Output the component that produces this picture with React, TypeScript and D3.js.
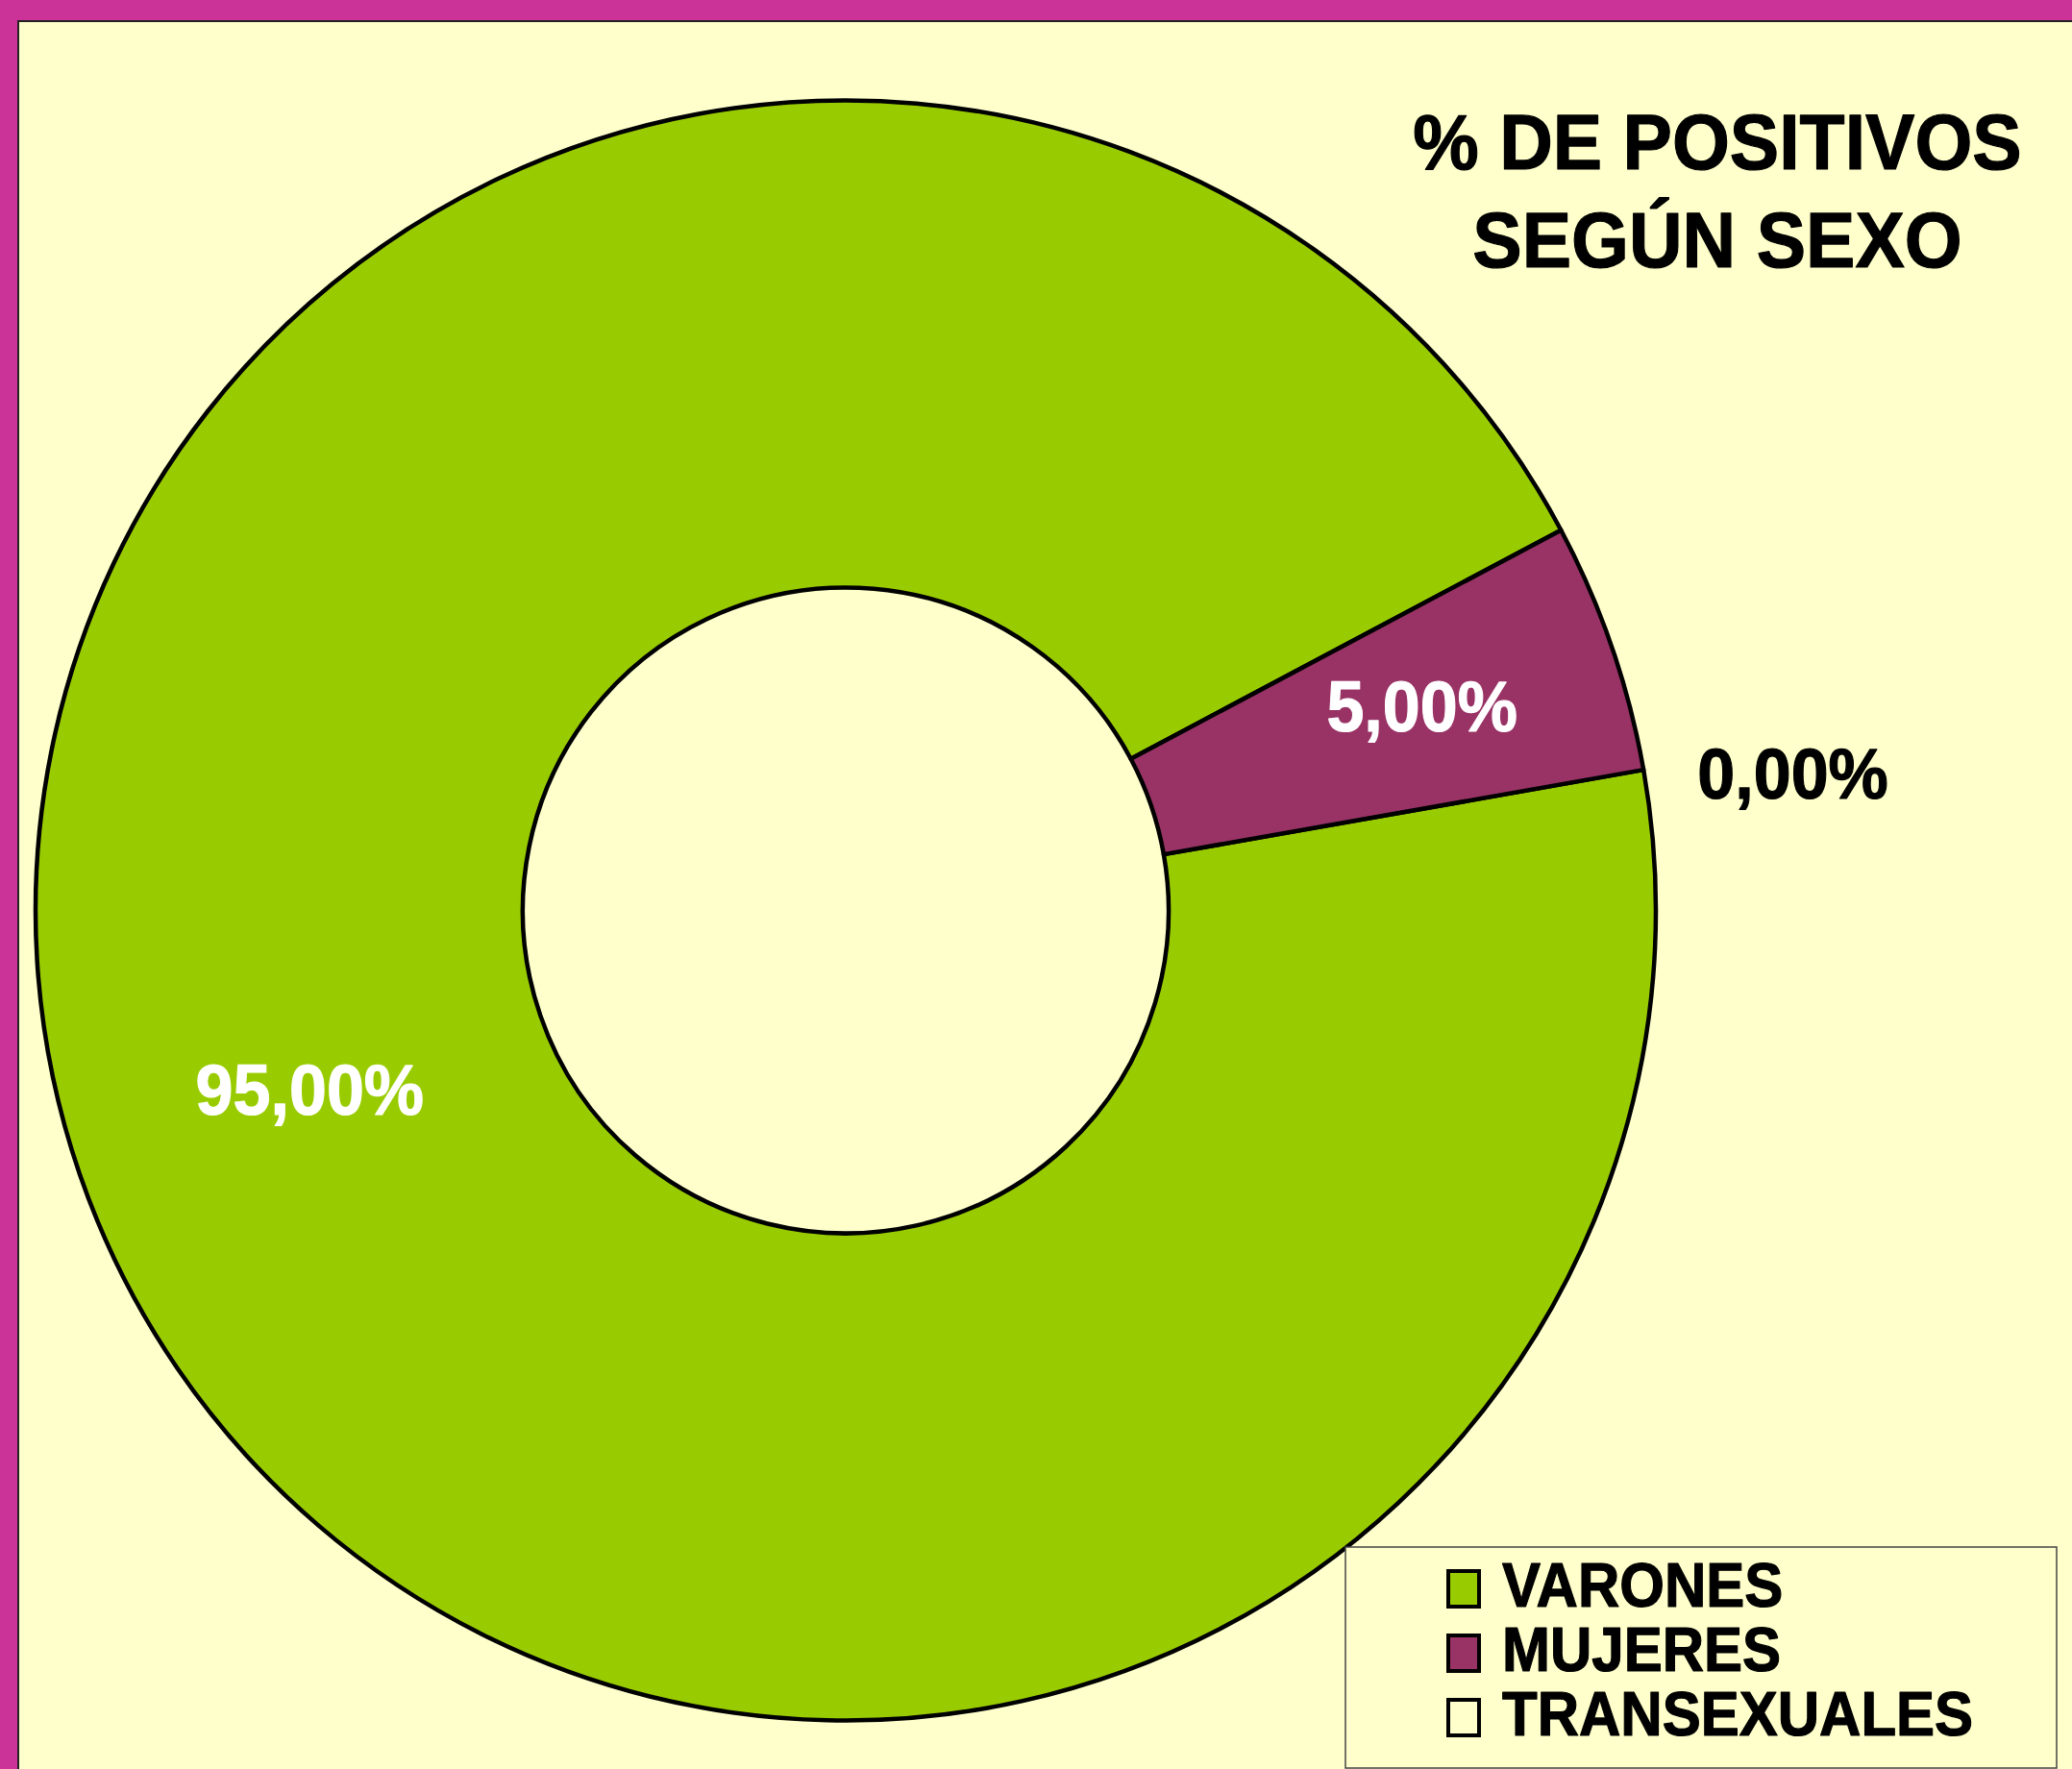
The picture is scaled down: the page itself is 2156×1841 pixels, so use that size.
import React from "react";
import * as d3 from "d3";

const categories = ["VARONES", "MUJERES", "TRANSEXUALES"];
const values = [95, 5, 0];
const colors = ["#99CC00", "#993366", "#FFFFCC"];
const titleLines = ["% DE POSITIVOS", "SEGÚN SEXO"];

const W = 2156;
const H = 1841;
const cx = 880;
const cy = 947.5;
const outerR = 843;
const innerR = 336;
const startDeg = 80;
const FONT = "'Liberation Sans', Arial, Helvetica, sans-serif";
const SX = 0.935; // horizontal squeeze of text
const SY = 1.07; // font size growth

const fmt = (v: number) => d3.format(".2f")(v).replace(".", ",") + "%";

function T(props: any) {
  const { x, y, size, children, anchor, fill } = props;
  const f = fill || "#000";
  return (
    <g transform={`translate(${x},${y}) scale(${SX},1)`}>
      <text x={0} y={0} textAnchor={anchor || "start"} fontFamily={FONT} fontWeight="bold"
        fontSize={size * SY} fill={f} stroke={f} strokeWidth={1.2} strokeLinejoin="round">
        {children}
      </text>
    </g>
  );
}

export default function App() {
  const data = categories.map((c, i) => ({ cat: c, value: values[i], color: colors[i] }));
  const start = (startDeg * Math.PI) / 180;
  const pie = d3
    .pie<any>()
    .value((d: any) => d.value)
    .sort(null)
    .startAngle(start)
    .endAngle(start + 2 * Math.PI);
  const arcs = pie(data);
  const arc = d3.arc<any>().innerRadius(innerR).outerRadius(outerR);
  const labelArc = d3.arc<any>().innerRadius(612).outerRadius(612);
  const outsideArc = d3.arc<any>().innerRadius(900).outerRadius(900);

  return (
    <div style={{ position: "absolute", left: 0, top: 0 }}>
      <svg width={W} height={H} style={{ display: "block" }}>
        <rect x={0} y={0} width={W} height={H} fill="#CC3399" />
        <rect x={19} y={22} width={W} height={H} fill="#FFFFCC" stroke="#222" strokeWidth={2} />
        <g transform={`translate(${cx},${cy})`}>
          {arcs
            .filter((a: any) => a.value > 0)
            .map((a: any, i: number) => (
              <path key={i} d={arc(a) as string} fill={a.data.color} stroke="#000" strokeWidth={4.5} strokeLinejoin="round" />
            ))}
          {arcs.map((a: any, i: number) => {
            if (a.value > 0) {
              const [x, y] = labelArc.centroid(a);
              return (
                <T key={"l" + i} x={x + 21} y={y + 13} size={70} anchor="middle" fill="#FFFFFF">
                  {fmt(a.value)}
                </T>
              );
            }
            const [x, y] = outsideArc.centroid(a);
            return (
              <T key={"l" + i} x={x} y={y + 40} size={70} anchor="start">
                {fmt(a.value)}
              </T>
            );
          })}
        </g>
        {titleLines.map((t, i) => (
          <T key={t} x={1787} y={176 + i * 102} size={77} anchor="middle">
            {t}
          </T>
        ))}
        <rect x={1400} y={1610} width={740} height={230} fill="#FFFFCC" stroke="#444" strokeWidth={1.5} />
        {data.map((d, i) => (
          <g key={d.cat}>
            <rect x={1507} y={1635 + i * 67} width={32} height={37} fill={d.color} stroke="#000" strokeWidth={4} />
            <T x={1563} y={1672 + i * 67} size={60}>
              {d.cat}
            </T>
          </g>
        ))}
      </svg>
    </div>
  );
}
